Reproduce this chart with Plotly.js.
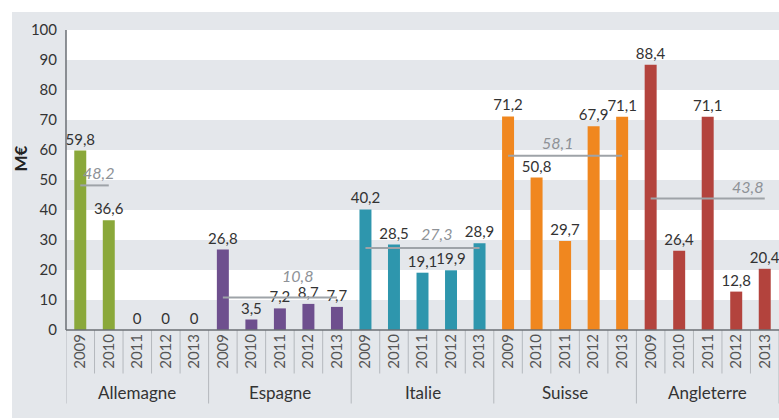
<!DOCTYPE html>
<html><head><meta charset="utf-8">
<script src="https://cdn.plot.ly/plotly-3.0.1.min.js"></script>
<style>html,body{margin:0;padding:0;background:#fff}#chart{width:779px;height:420px}</style>
</head><body><div id="chart"></div>
<script>
const countries = ["Allemagne","Espagne","Italie","Suisse","Angleterre"];
const years = ["2009","2010","2011","2012","2013"];
const colors = ["#8aa83a","#6e4f8e","#2e96ad","#f0871f","#b3433d"];
const values = [
  [59.8, 36.6, 0, 0, 0],
  [26.8, 3.5, 7.2, 8.7, 7.7],
  [40.2, 28.5, 19.1, 19.9, 28.9],
  [71.2, 50.8, 29.7, 67.9, 71.1],
  [88.4, 26.4, 71.1, 12.8, 20.4]
];
const averages = [48.2, 10.8, 27.3, 58.1, 43.8];
const avgSpan = [[0,1],[0,4],[0,4],[0,4],[0,4]];   // year indices covered by the average line
const avgLabelPos = [0.65, 2.6, 2.5, 1.75, 3.4];   // label position (in year units within group)
const avgLabelShift = [13, 22, 15, 13, 12];        // label offset above the line, px

const fmt = v => v === 0 ? "0" : v.toFixed(1).replace(".", ",");
const nY = years.length;
const traces = [];
const tickvals = [], ticktext = [];
countries.forEach((c, ci) => {
  const xs = years.map((y, yi) => ci * nY + yi);
  xs.forEach((x, yi) => { tickvals.push(x); ticktext.push(years[yi]); });
  traces.push({
    type: "bar", x: xs, y: values[ci], width: 0.42,
    marker: {color: colors[ci]},
    text: values[ci].map(fmt), textposition: "outside", constraintext: "none",
    textfont: {family: "Lato, sans-serif", size: 15, color: "#333"},
    cliponaxis: false, hoverinfo: "skip", showlegend: false
  });
});
countries.forEach((c, ci) => {
  traces.push({
    type: "scatter", mode: "lines",
    x: [ci * nY + avgSpan[ci][0], ci * nY + avgSpan[ci][1]],
    y: [averages[ci], averages[ci]],
    line: {color: "#9ea3a8", width: 2},
    hoverinfo: "skip", showlegend: false
  });
});

const shapes = [];
shapes.push({type:"rect", xref:"paper", yref:"paper", x0:-0.0757, x1:1.01, y0:-0.293, y1:1.06,
  fillcolor:"#e4e7eb", line:{width:0}, layer:"below"});
for (let v = 10; v < 100; v += 20) {
  shapes.push({type:"rect", xref:"paper", yref:"y", x0:0, x1:1, y0:v, y1:v+10,
    fillcolor:"#ffffff", line:{width:0}, layer:"below"});
}
const total = countries.length * nY;
for (let i = 0; i <= total; i++) {
  const isGroup = i % nY === 0;
  shapes.push({type:"line", xref:"x", yref:"paper", x0:i-0.5, x1:i-0.5,
    y0:0, y1: isGroup ? -0.245 : -0.145, line:{color:"#b4b8bd", width:1}});
}
shapes.push({type:"line", xref:"paper", yref:"paper", x0:0, x1:0, y0:0, y1:1, line:{color:"#6b6f74", width:1.5}});
shapes.push({type:"line", xref:"paper", yref:"paper", x0:0, x1:1, y0:0, y1:0, line:{color:"#6b6f74", width:1.5}});

const annotations = [];
countries.forEach((c, ci) => {
  annotations.push({x: ci * nY + 2, y: -0.208, xref:"x", yref:"paper", text: c, showarrow:false,
    font:{family:"Lato, sans-serif", size:17, color:"#333"}, yanchor:"middle"});
  annotations.push({x: ci * nY + avgLabelPos[ci], y: averages[ci], xref:"x", yref:"y",
    text: "<i>" + fmt(averages[ci]) + "</i>", showarrow:false, yanchor:"middle", yshift: avgLabelShift[ci],
    font:{family:"Lato, sans-serif", size:16, color:"#8e9297"}});
});
annotations.push({x:-0.064, y:0.573, xref:"paper", yref:"paper", xanchor:"center", yanchor:"middle",
  text:"<b>M€</b>", showarrow:false,
  textangle:-90, font:{family:"Lato, sans-serif", size:17, color:"#222"}});

const layout = {
  width: 779, height: 420,
  margin: {l:66, r:0, t:30, b:90, pad:0},
  paper_bgcolor: "#ffffff", plot_bgcolor: "#e4e7eb",
  bargap: 0.5, showlegend: false,
  xaxis: {range:[-0.5, total-0.5], tickmode:"array", tickvals: tickvals, ticktext: ticktext,
    tickangle:-90, ticks:"", showgrid:false, zeroline:false, showline:false,
    tickfont:{family:"Lato, sans-serif", size:15, color:"#555"}, fixedrange:true},
  yaxis: {range:[0,100], tickvals:[0,10,20,30,40,50,60,70,80,90,100], ticks:"",
    showgrid:false, zeroline:false, showline:false, ticklabelstandoff:8,
    tickfont:{family:"Lato, sans-serif", size:15, color:"#333"}, fixedrange:true},
  shapes: shapes, annotations: annotations
};
Plotly.newPlot("chart", traces, layout, {displayModeBar:false, staticPlot:true});
</script></body></html>
